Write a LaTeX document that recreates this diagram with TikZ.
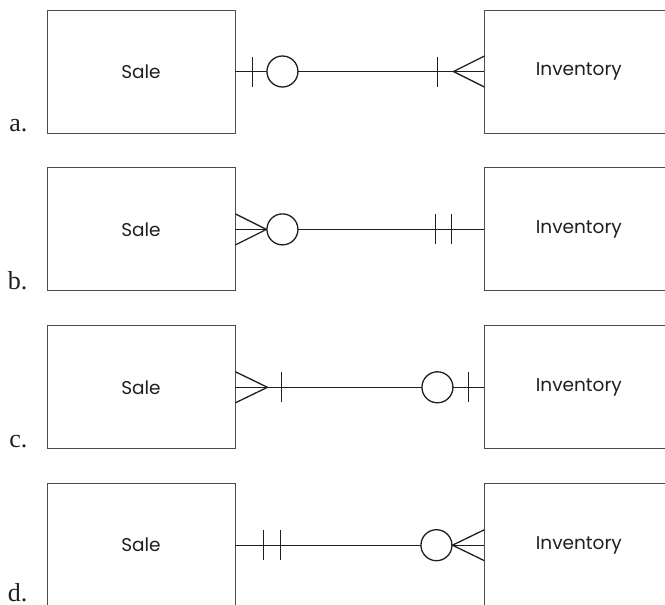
\documentclass[tikz,border=0pt]{standalone}
\usepackage{fontspec}
\setmainfont{Liberation Serif}
\newfontfamily\boxfont{Poppins}
\usepackage{tikz}
\usetikzlibrary{positioning, calc}
\usepackage{xcolor}
\definecolor{box-grey}{gray}{0.3}
\definecolor{rel-black}{gray}{0.12}

\begin{document}
\begin{tikzpicture}[x=1pt, y=1pt, node distance=34pt and 249pt,
	entity/.style={draw=box-grey, line width=0.9pt, minimum width=188pt, minimum height=123pt, inner sep=0pt, text=rel-black, font=\boxfont\fontsize{18.5}{20}\selectfont},
	rel/.style={rel-black, line width=1.3pt},
	opt/.style={circle, draw=rel-black, line width=1.3pt, fill=white, minimum size=31pt, inner sep=0pt},
	tag/.style={anchor=base east, inner sep=0pt, text=rel-black, font=\fontsize{26}{28}\selectfont}]
	\useasboundingbox (0,0) rectangle (665,-605);
	% entities
	\node[entity] (sa) at (141,-71.5) {Sale};
	\node[entity, below =of sa] (sb) {Sale};
	\node[entity, below =of sb] (sc) {Sale};
	\node[entity, below =of sc] (sd) {Sale};
	\node[entity, right =of sa] (ia) {Inventory};
	\node[entity, right =of sb] (ib) {Inventory};
	\node[entity, right =of sc] (ic) {Inventory};
	\node[entity, right =of sd] (id) {Inventory};
	\node[tag] (la) at ([xshift=-19pt, yshift=2pt]sa.south west) {a.};
	\node[tag] (lb) at ([xshift=-19pt, yshift=2pt]sb.south west) {b.};
	\node[tag] (lc) at ([xshift=-19pt, yshift=2pt]sc.south west) {c.};
	\node[tag] (ld) at ([xshift=-19pt, yshift=6pt]sd.south west) {d.};
	% a.
	\draw[rel] (sa) -- (ia);
	\draw[rel] ([xshift=17pt]sa.east) ++(0,15) -- ++(0,-30);
	\node[opt] (oa) at ([xshift=47pt]sa.east) {};
	\draw[rel] ([xshift=-47pt]ia.west) ++(0,15) -- ++(0,-30);
	\draw[rel] ([yshift=15.5pt]ia.west) -- ([xshift=-31pt]ia.west) -- ([yshift=-15.5pt]ia.west);
	% b.
	\draw[rel] (sb) -- (ib);
	\draw[rel] ([yshift=15.5pt]sb.east) -- ([xshift=31pt]sb.east) -- ([yshift=-15.5pt]sb.east);
	\node[opt] (ob) at ([xshift=47pt]sb.east) {};
	\draw[rel] ([xshift=-49pt]ib.west) ++(0,15) -- ++(0,-30);
	\draw[rel] ([xshift=-33pt]ib.west) ++(0,15) -- ++(0,-30);
	% c.
	\draw[rel] (sc) -- (ic);
	\draw[rel] ([yshift=15.5pt]sc.east) -- ([xshift=32pt]sc.east) -- ([yshift=-15.5pt]sc.east);
	\draw[rel] ([xshift=46pt]sc.east) ++(0,15) -- ++(0,-30);
	\node[opt] (oc) at ([xshift=-47pt]ic.west) {};
	\draw[rel] ([xshift=-16pt]ic.west) ++(0,15) -- ++(0,-30);
	% d.
	\draw[rel] (sd) -- (id);
	\draw[rel] ([xshift=28pt]sd.east) ++(0,15) -- ++(0,-30);
	\draw[rel] ([xshift=45pt]sd.east) ++(0,15) -- ++(0,-30);
	\node[opt] (od) at ([xshift=-48pt]id.west) {};
	\draw[rel] ([yshift=15.5pt]id.west) -- ([xshift=-32pt]id.west) -- ([yshift=-15.5pt]id.west);
\end{tikzpicture}
\end{document}
